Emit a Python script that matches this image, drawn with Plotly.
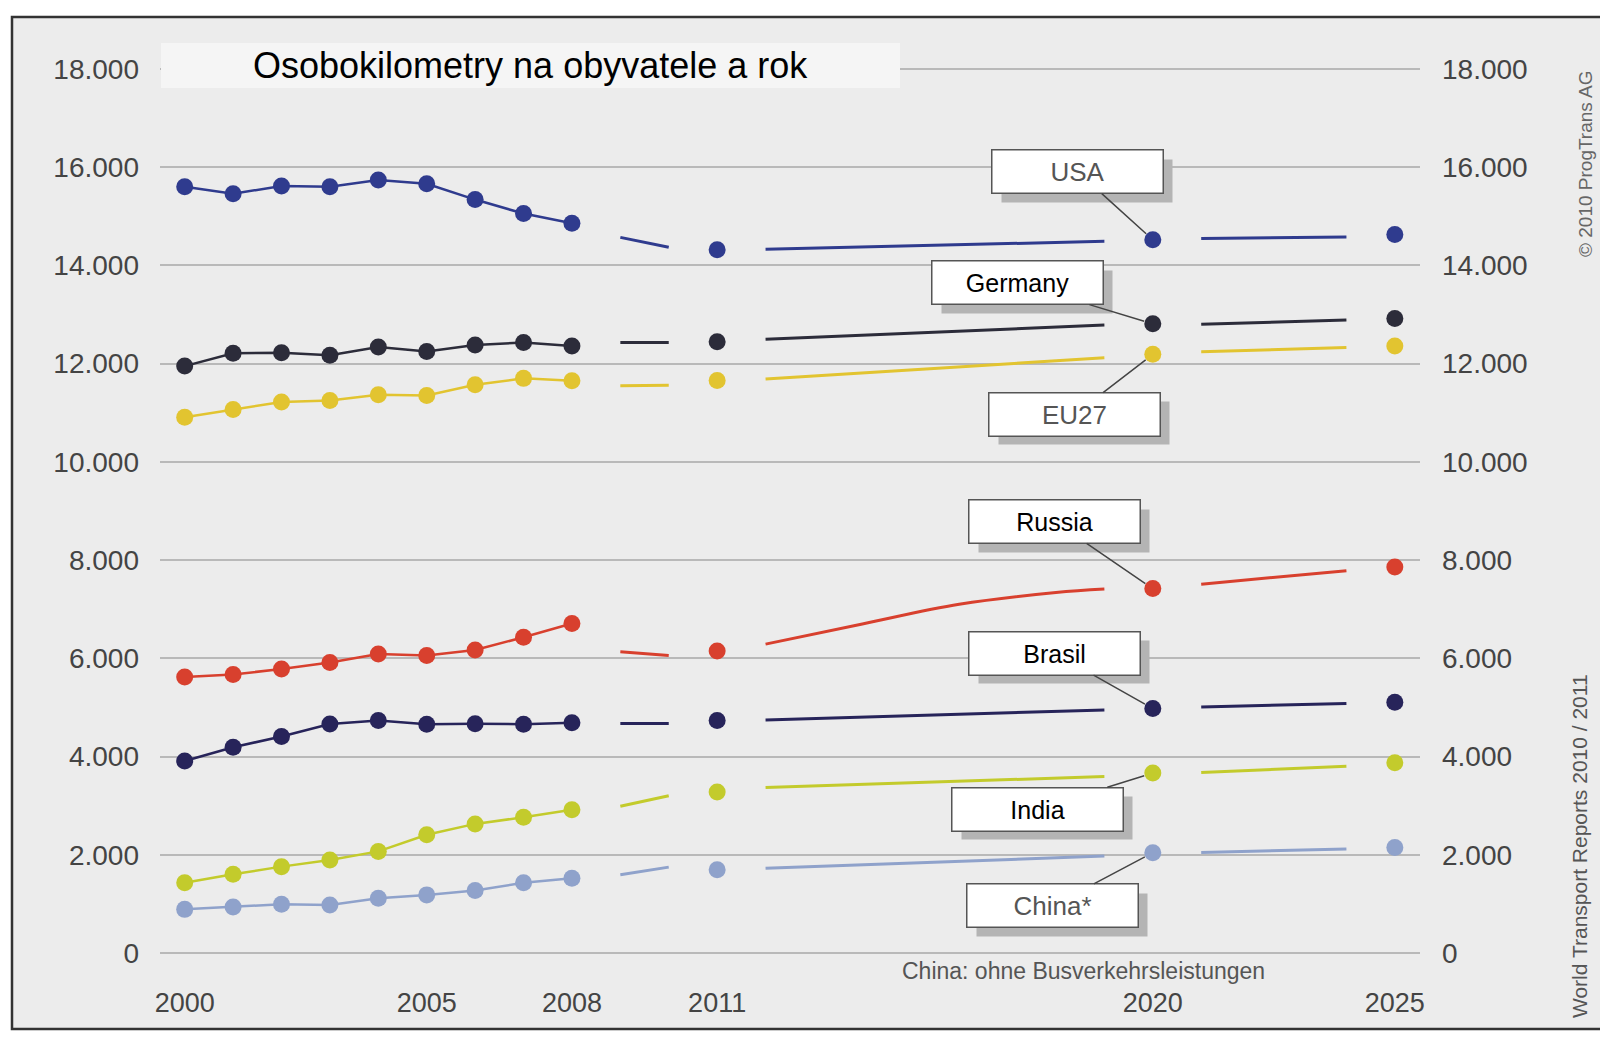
import plotly.graph_objects as go

# Data (passenger-km per inhabitant and year)
years_hist = [2000, 2001, 2002, 2003, 2004, 2005, 2006, 2007, 2008]
years_fc = [2011, 2020, 2025]
seg_years = [2009, 2010, None, 2012, 2019, None, 2021, 2024]
russia_seg_years = [2009, 2010, None, 2012, 2014, 2016, 2018, 2019, None, 2021, 2024]

usa_hist = [15600, 15460, 15615, 15600, 15740, 15660, 15340, 15055, 14860]
usa_fc = [14320, 14520, 14630]
usa_seg = [14570, 14370, None, 14330, 14490, None, 14550, 14580]

germany_hist = [11950, 12210, 12220, 12170, 12340, 12245, 12380, 12430, 12360]
germany_fc = [12445, 12810, 12920]
germany_seg = [12430, 12430, None, 12495, 12785, None, 12800, 12890]

eu27_hist = [10910, 11065, 11220, 11250, 11365, 11350, 11570, 11700, 11650]
eu27_fc = [11655, 12190, 12360]
eu27_seg = [11550, 11560, None, 11685, 12120, None, 12240, 12330]

russia_hist = [5620, 5670, 5785, 5915, 6090, 6060, 6170, 6430, 6710]
russia_fc = [6150, 7420, 7860]
russia_seg = [6135, 6060, None, 6290, 6700, 7100, 7340, 7410, None, 7510, 7785]

brasil_hist = [3910, 4190, 4410, 4665, 4735, 4660, 4670, 4660, 4690]
brasil_fc = [4735, 4980, 5105]
brasil_seg = [4675, 4675, None, 4745, 4950, None, 5010, 5080]

india_hist = [1430, 1605, 1760, 1895, 2070, 2410, 2630, 2765, 2920]
india_fc = [3280, 3665, 3875]
india_seg = [2990, 3205, None, 3370, 3595, None, 3675, 3805]

china_hist = [890, 940, 995, 980, 1115, 1185, 1275, 1430, 1525]
china_fc = [1695, 2045, 2150]
china_seg = [1595, 1750, None, 1725, 1975, None, 2050, 2120]

x_tickvals = [2000, 2005, 2008, 2011, 2020, 2025]
y_tickvals = [0, 2000, 4000, 6000, 8000, 10000, 12000, 14000, 16000, 18000]
y_ticktext = ["0", "2.000", "4.000", "6.000", "8.000", "10.000", "12.000", "14.000", "16.000", "18.000"]

series = [
    # name, hist, fc, seg years, seg values, color
    ("USA", usa_hist, usa_fc, seg_years, usa_seg, "#2f3b8e"),
    ("Germany", germany_hist, germany_fc, seg_years, germany_seg, "#2c2c3a"),
    ("EU27", eu27_hist, eu27_fc, seg_years, eu27_seg, "#e2c430"),
    ("Russia", russia_hist, russia_fc, russia_seg_years, russia_seg, "#d8402e"),
    ("Brasil", brasil_hist, brasil_fc, seg_years, brasil_seg, "#27245a"),
    ("India", india_hist, india_fc, seg_years, india_seg, "#c3cb2c"),
    ("China*", china_hist, china_fc, seg_years, china_seg, "#8fa2cb"),
]

FONT = "Liberation Sans, Arial, sans-serif"

# plot area in page pixels; the page body adds an 8px margin
W, H = 1608, 1042
L, R, T, B = 160, 1420, 64, 958
OFF = 8


def px(xp):
    return (xp - L) / (R - L)


def py(yp):
    return (B - yp) / (B - T)


fig = go.Figure()

for name, hist, fc, sx, sy, color in series:
    fig.add_trace(go.Scatter(
        x=years_hist, y=hist, mode="lines+markers", name=name,
        line=dict(color=color, width=2.5),
        marker=dict(color=color, size=17),
    ))
    fig.add_trace(go.Scatter(
        x=sx, y=sy, mode="lines", name=name, connectgaps=False,
        line=dict(color=color, width=3, shape="spline", smoothing=1.0),
    ))
    fig.add_trace(go.Scatter(
        x=years_fc, y=fc, mode="markers", name=name, yaxis="y2",
        marker=dict(color=color, size=17),
    ))

# callout boxes: label, value at 2020, box offset in px, scanned look?
callouts = [
    ("USA", usa_fc[1], -75, -68, True),
    ("Germany", germany_fc[1], -135, -41, False),
    ("EU27", eu27_fc[1], -78, 60, True),
    ("Russia", russia_fc[1], -98, -67, False),
    ("Brasil", brasil_fc[1], -98, -55, False),
    ("India", india_fc[1], -115, 36, False),
    ("China*", china_fc[1], -100, 53, True),
]

annotations = []
for label, yv, ax, ay, scanned in callouts:
    # shadow
    annotations.append(dict(
        x=2020, y=yv, xref="x", yref="y", ax=ax, ay=ay, text=" ",
        showarrow=True, arrowcolor="rgba(0,0,0,0)", arrowwidth=1,
        bgcolor="#b4b4b4", width=168, height=40, borderpad=1,
        xshift=9, yshift=-9,
    ))
    annotations.append(dict(
        x=2020, y=yv, xref="x", yref="y", ax=ax, ay=ay, text=label,
        showarrow=True, arrowhead=0, arrowwidth=1.5, arrowcolor="#444444",
        standoff=9,
        bgcolor="#ffffff", bordercolor="#555555", borderwidth=1.5,
        width=168, height=40, borderpad=1,
        font=dict(family=FONT, size=26 if scanned else 25,
                  color="#555555" if scanned else "#000000"),
    ))

annotations += [
    dict(x=px(530), y=py(65), xref="paper", yref="paper", showarrow=False,
         xanchor="center", yanchor="middle",
         text="Osobokilometry na obyvatele a rok",
         font=dict(family=FONT, size=36, color="#000000")),
    dict(x=px(1083), y=py(971), xref="paper", yref="paper", showarrow=False,
         xanchor="center", yanchor="middle",
         text="China: ohne Busverkehrsleistungen",
         font=dict(family=FONT, size=23, color="#555555")),
    dict(x=px(1585), y=py(164), xref="paper", yref="paper", showarrow=False,
         xanchor="center", yanchor="middle",
         text="© 2010 ProgTrans AG", textangle=-90,
         font=dict(family=FONT, size=19, color="#666666")),
    dict(x=px(1579), y=py(846), xref="paper", yref="paper", showarrow=False,
         xanchor="center", yanchor="middle",
         text="World Transport Reports 2010 / 2011", textangle=-90,
         font=dict(family=FONT, size=21, color="#555555")),
]

shapes = [
    # scanned page frame
    dict(type="rect", xref="paper", yref="paper", layer="below",
         x0=px(12), x1=px(1650), y0=py(1029), y1=py(17),
         fillcolor="#ececec", line=dict(color="#333333", width=2.5)),
    # title box
    dict(type="rect", xref="paper", yref="paper", layer="above",
         x0=px(161), x1=px(900), y0=py(88), y1=py(43),
         fillcolor="#f5f5f5", line=dict(width=0)),
]

fig.update_layout(
    width=W - OFF, height=H - OFF,
    margin=dict(l=L - OFF, r=W - R, t=T - OFF, b=H - B, autoexpand=False),
    paper_bgcolor="#ffffff",
    plot_bgcolor="rgba(0,0,0,0)",
    showlegend=False,
    font=dict(family=FONT, color="#444444"),
    xaxis=dict(
        range=[1999.49, 2025.52], tickvals=x_tickvals,
        showgrid=False, zeroline=False, showline=False,
        ticks="", ticklabelstandoff=26,
        tickfont=dict(size=27, color="#444444"),
    ),
    yaxis=dict(
        range=[-100, 18100], tickvals=y_tickvals, ticktext=y_ticktext,
        showgrid=True, gridcolor="#b9b9b9", gridwidth=1.5,
        zeroline=False, showline=False, ticks="", ticklabelstandoff=20,
        tickfont=dict(size=28, color="#444444"),
    ),
    yaxis2=dict(
        range=[-100, 18100], tickvals=y_tickvals, ticktext=y_ticktext,
        overlaying="y", side="right", showgrid=False, zeroline=False,
        showline=False, ticks="", ticklabelstandoff=21,
        tickfont=dict(size=28, color="#444444"),
    ),
    annotations=annotations,
    shapes=shapes,
)

fig.write_html("out.html")
